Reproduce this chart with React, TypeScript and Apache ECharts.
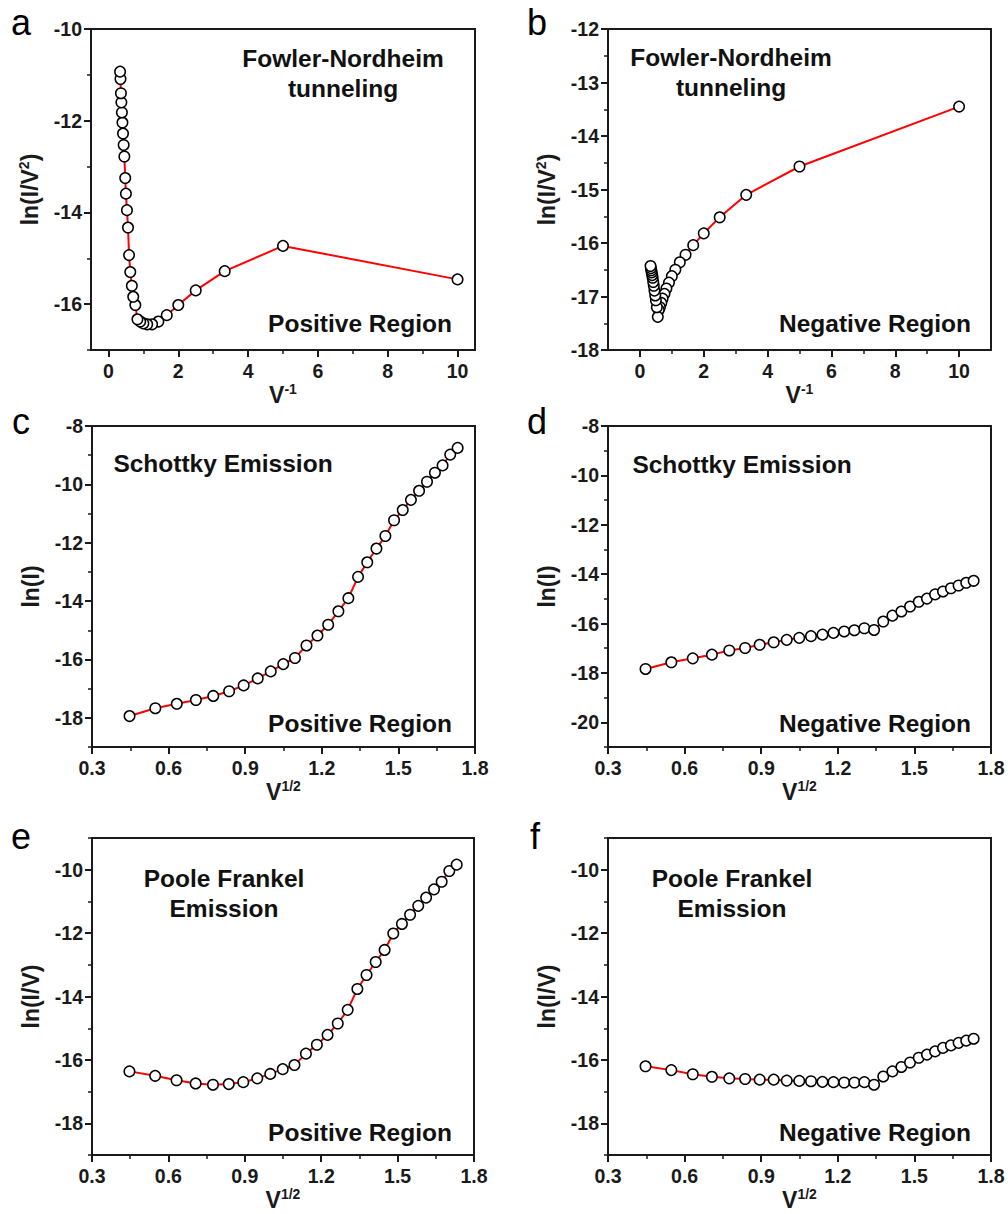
import React, { useEffect, useRef } from "react";
import * as echarts from "echarts";

// ---------- data ----------
// Panels a & b : x = V^-1
const fnX = [10, 5, 3.33, 2.5, 2, 1.67, 1.43, 1.25, 1.11, 1.0, 0.91, 0.83, 0.77, 0.71, 0.67, 0.625, 0.59, 0.56, 0.53, 0.5, 0.48, 0.455, 0.435, 0.417, 0.4, 0.385, 0.37, 0.357, 0.345, 0.333];
const fnPosY = [-15.46, -14.73, -15.28, -15.7, -16.02, -16.24, -16.38, -16.44, -16.44, -16.42, -16.38, -16.33, -16.02, -15.84, -15.6, -15.3, -14.93, -14.33, -13.95, -13.59, -13.25, -12.78, -12.53, -12.28, -12.04, -11.82, -11.6, -11.4, -11.09, -10.93];
const fnNegY = [-13.45, -14.57, -15.1, -15.52, -15.82, -16.04, -16.22, -16.36, -16.5, -16.62, -16.74, -16.85, -16.95, -17.04, -17.12, -17.2, -17.25, -17.38, -17.2, -17.07, -16.98, -16.89, -16.8, -16.73, -16.65, -16.6, -16.55, -16.51, -16.47, -16.43];

// Panels c-f : x = V^1/2
const sqrtX = [0.447, 0.548, 0.632, 0.707, 0.775, 0.837, 0.894, 0.949, 1.0, 1.049, 1.095, 1.14, 1.183, 1.225, 1.265, 1.304, 1.342, 1.378, 1.414, 1.449, 1.483, 1.517, 1.549, 1.581, 1.612, 1.643, 1.673, 1.703, 1.732];
const schPosY = [-17.94, -17.67, -17.52, -17.39, -17.25, -17.09, -16.89, -16.65, -16.41, -16.16, -15.95, -15.52, -15.18, -14.81, -14.35, -13.9, -13.17, -12.67, -12.2, -11.77, -11.23, -10.88, -10.53, -10.22, -9.91, -9.6, -9.35, -8.98, -8.75];
const schNegY = [-17.84, -17.57, -17.41, -17.26, -17.09, -16.99, -16.86, -16.76, -16.66, -16.58, -16.51, -16.45, -16.38, -16.32, -16.27, -16.19, -16.26, -15.92, -15.68, -15.51, -15.31, -15.12, -14.99, -14.82, -14.7, -14.57, -14.46, -14.35, -14.27];
const pfPosY = [-16.36, -16.5, -16.64, -16.74, -16.78, -16.76, -16.7, -16.58, -16.44, -16.29, -16.16, -15.8, -15.52, -15.21, -14.85, -14.42, -13.76, -13.32, -12.91, -12.53, -12.01, -11.71, -11.42, -11.14, -10.88, -10.62, -10.38, -10.04, -9.84];
const pfNegY = [-16.2, -16.32, -16.45, -16.53, -16.58, -16.6, -16.62, -16.62, -16.65, -16.66, -16.67, -16.69, -16.7, -16.71, -16.71, -16.7, -16.78, -16.52, -16.36, -16.22, -16.08, -15.93, -15.83, -15.73, -15.62, -15.54, -15.46, -15.39, -15.33];

// tick labels
const fnXTicks = [0, 2, 4, 6, 8, 10];
const fnXMinor = [1, 3, 5, 7, 9];
const aYTicks = [-16, -14, -12, -10];
const aYMinor = [-17, -15, -13, -11];
const bYTicks = [-18, -17, -16, -15, -14, -13, -12];
const bYMinor = [-17.5, -16.5, -15.5, -14.5, -13.5, -12.5];
const sqXTicks = [0.3, 0.6, 0.9, 1.2, 1.5, 1.8];
const sqXMinor = [0.45, 0.75, 1.05, 1.35, 1.65];
const cYTicks = [-18, -16, -14, -12, -10, -8];
const cYMinor = [-19, -17, -15, -13, -11, -9];
const dYTicks = [-20, -18, -16, -14, -12, -10, -8];
const dYMinor = [-21, -19, -17, -15, -13, -11, -9];
const efYTicks = [-18, -16, -14, -12, -10];
const efYMinor = [-19, -17, -15, -13, -11, -9];

const FONT = "'Liberation Sans', Arial, Helvetica, sans-serif";
const AX = "#1a1a1a";

type Panel = {
  letter: string;
  grid: { left: number; top: number; width: number; height: number };
  letterPos: [number, number];
  x: number[];
  y: number[];
  xMin: number; xMax: number; xTicks: number[]; xMinor: number[]; xDec: number; xName: string;
  yMin: number; yMax: number; yTicks: number[]; yMinor: number[]; yName: string;
  notes: { text: string; x: number; y: number }[];
};

const panels: Panel[] = [
  {
    letter: "a", grid: { left: 91, top: 29, width: 384, height: 321 }, letterPos: [11, 22],
    x: fnX, y: fnPosY, xMin: -0.5, xMax: 10.5, xTicks: fnXTicks, xMinor: fnXMinor, xDec: 0, xName: "V{sup|-1}",
    yMin: -17, yMax: -10, yTicks: aYTicks, yMinor: aYMinor, yName: "ln(I/V{sup|2})",
    notes: [{ text: "Fowler-Nordheim\ntunneling", x: 343, y: 73 }, { text: "Positive Region", x: 360, y: 323 }],
  },
  {
    letter: "b", grid: { left: 608, top: 29, width: 383, height: 321 }, letterPos: [527, 22],
    x: fnX, y: fnNegY, xMin: -1, xMax: 11, xTicks: fnXTicks, xMinor: fnXMinor, xDec: 0, xName: "V{sup|-1}",
    yMin: -18, yMax: -12, yTicks: bYTicks, yMinor: bYMinor, yName: "ln(I/V{sup|2})",
    notes: [{ text: "Fowler-Nordheim\ntunneling", x: 731, y: 72 }, { text: "Negative Region", x: 875, y: 323 }],
  },
  {
    letter: "c", grid: { left: 92, top: 426, width: 383, height: 321 }, letterPos: [12, 421],
    x: sqrtX, y: schPosY, xMin: 0.3, xMax: 1.8, xTicks: sqXTicks, xMinor: sqXMinor, xDec: 1, xName: "V{sup|1/2}",
    yMin: -19, yMax: -8, yTicks: cYTicks, yMinor: cYMinor, yName: "ln(I)",
    notes: [{ text: "Schottky Emission", x: 223, y: 463 }, { text: "Positive Region", x: 360, y: 723 }],
  },
  {
    letter: "d", grid: { left: 608, top: 426, width: 383, height: 321 }, letterPos: [527, 421],
    x: sqrtX, y: schNegY, xMin: 0.3, xMax: 1.8, xTicks: sqXTicks, xMinor: sqXMinor, xDec: 1, xName: "V{sup|1/2}",
    yMin: -21, yMax: -8, yTicks: dYTicks, yMinor: dYMinor, yName: "ln(I)",
    notes: [{ text: "Schottky Emission", x: 742, y: 464 }, { text: "Negative Region", x: 875, y: 723 }],
  },
  {
    letter: "e", grid: { left: 92, top: 838, width: 382, height: 321 }, letterPos: [11, 836],
    x: sqrtX, y: pfPosY, xMin: 0.3, xMax: 1.8, xTicks: sqXTicks, xMinor: sqXMinor, xDec: 1, xName: "V{sup|1/2}",
    yMin: -19, yMax: -9, yTicks: efYTicks, yMinor: efYMinor, yName: "ln(I/V)",
    notes: [{ text: "Poole Frankel\nEmission", x: 224, y: 893 }, { text: "Positive Region", x: 360, y: 1132 }],
  },
  {
    letter: "f", grid: { left: 608, top: 838, width: 383, height: 321 }, letterPos: [530, 836],
    x: sqrtX, y: pfNegY, xMin: 0.3, xMax: 1.8, xTicks: sqXTicks, xMinor: sqXMinor, xDec: 1, xName: "V{sup|1/2}",
    yMin: -19, yMax: -9, yTicks: efYTicks, yMinor: efYMinor, yName: "ln(I/V)",
    notes: [{ text: "Poole Frankel\nEmission", x: 732, y: 893 }, { text: "Negative Region", x: 875, y: 1132 }],
  },
];

function nameStyle(size: number) {
  return {
    fontSize: size,
    fontWeight: "bold",
    fontFamily: FONT,
    color: AX,
    lineHeight: 26,
    rich: {
      sup: { fontSize: 14, fontWeight: "bold", fontFamily: FONT, color: AX, verticalAlign: "top", lineHeight: 26 },
    },
  };
}

function buildOption() {
  const grid: any[] = [];
  const xAxis: any[] = [];
  const yAxis: any[] = [];
  const series: any[] = [];
  const graphic: any[] = [];

  panels.forEach((p, i) => {
    grid.push({ ...p.grid, show: true, borderColor: AX, borderWidth: 2, containLabel: false });

    const lineStyle = { color: AX, width: 2 };
    xAxis.push({
      gridIndex: i, type: "value", min: p.xMin, max: p.xMax, position: "bottom",
      axisLine: { show: true, onZero: false, lineStyle },
      axisTick: { show: true, inside: false, length: 7, lineStyle, customValues: p.xTicks },
      axisLabel: {
        customValues: p.xTicks, margin: 11, fontSize: 19.5, fontWeight: "bold", fontFamily: FONT, color: AX,
        formatter: (v: number) => v.toFixed(p.xDec),
      },
      splitLine: { show: false },
      name: p.xName, nameLocation: "middle", nameGap: 31, nameTextStyle: nameStyle(23),
    });
    xAxis.push({
      gridIndex: i, type: "value", min: p.xMin, max: p.xMax, position: "bottom",
      axisLine: { show: false, onZero: false },
      axisTick: { show: true, inside: false, length: 4, lineStyle: { color: AX, width: 1.5 }, customValues: p.xMinor },
      axisLabel: { show: false },
      splitLine: { show: false },
    });
    yAxis.push({
      gridIndex: i, type: "value", min: p.yMin, max: p.yMax, position: "left",
      axisLine: { show: true, onZero: false, lineStyle },
      axisTick: { show: true, inside: false, length: 7, lineStyle, customValues: p.yTicks },
      axisLabel: {
        customValues: p.yTicks, margin: 9, fontSize: 19.5, fontWeight: "bold", fontFamily: FONT, color: AX,
        formatter: (v: number) => String(Math.round(v)),
      },
      splitLine: { show: false },
      name: p.yName, nameLocation: "middle", nameGap: 48, nameRotate: 90, nameTextStyle: nameStyle(23),
    });
    yAxis.push({
      gridIndex: i, type: "value", min: p.yMin, max: p.yMax, position: "left",
      axisLine: { show: false, onZero: false },
      axisTick: { show: true, inside: false, length: 4, lineStyle: { color: AX, width: 1.5 }, customValues: p.yMinor },
      axisLabel: { show: false },
      splitLine: { show: false },
    });

    series.push({
      type: "line",
      xAxisIndex: 2 * i,
      yAxisIndex: 2 * i,
      data: p.x.map((xv, k) => [xv, p.y[k]]),
      symbol: "circle",
      symbolSize: 10.5,
      showSymbol: true,
      showAllSymbol: true,
      itemStyle: { color: "#ffffff", borderColor: "#000000", borderWidth: 1.5 },
      lineStyle: { color: "#ff0000", width: 2 },
      emphasis: { disabled: true },
      clip: false,
    });

    graphic.push({
      type: "text", x: p.letterPos[0], y: p.letterPos[1],
      style: { text: p.letter, fill: "#000", fontSize: 36, fontFamily: FONT, fontWeight: "normal", align: "left", verticalAlign: "middle" },
    });
    p.notes.forEach((n) => {
      graphic.push({
        type: "text", x: n.x, y: n.y,
        style: {
          text: n.text, fill: "#111", fontSize: 24.5, fontWeight: "bold", fontFamily: FONT,
          align: "center", verticalAlign: "middle", lineHeight: 30,
        },
      });
    });
  });

  return { animation: false, backgroundColor: "#ffffff", grid, xAxis, yAxis, series, graphic };
}

export default function App() {
  const ref = useRef<HTMLDivElement>(null);
  useEffect(() => {
    document.body.style.margin = "0";
    if (!ref.current) return;
    const chart = echarts.init(ref.current, undefined, { renderer: "svg" });
    chart.setOption(buildOption() as any);
    return () => chart.dispose();
  }, []);
  return <div ref={ref} style={{ width: 1008, height: 1214 }} />;
}
